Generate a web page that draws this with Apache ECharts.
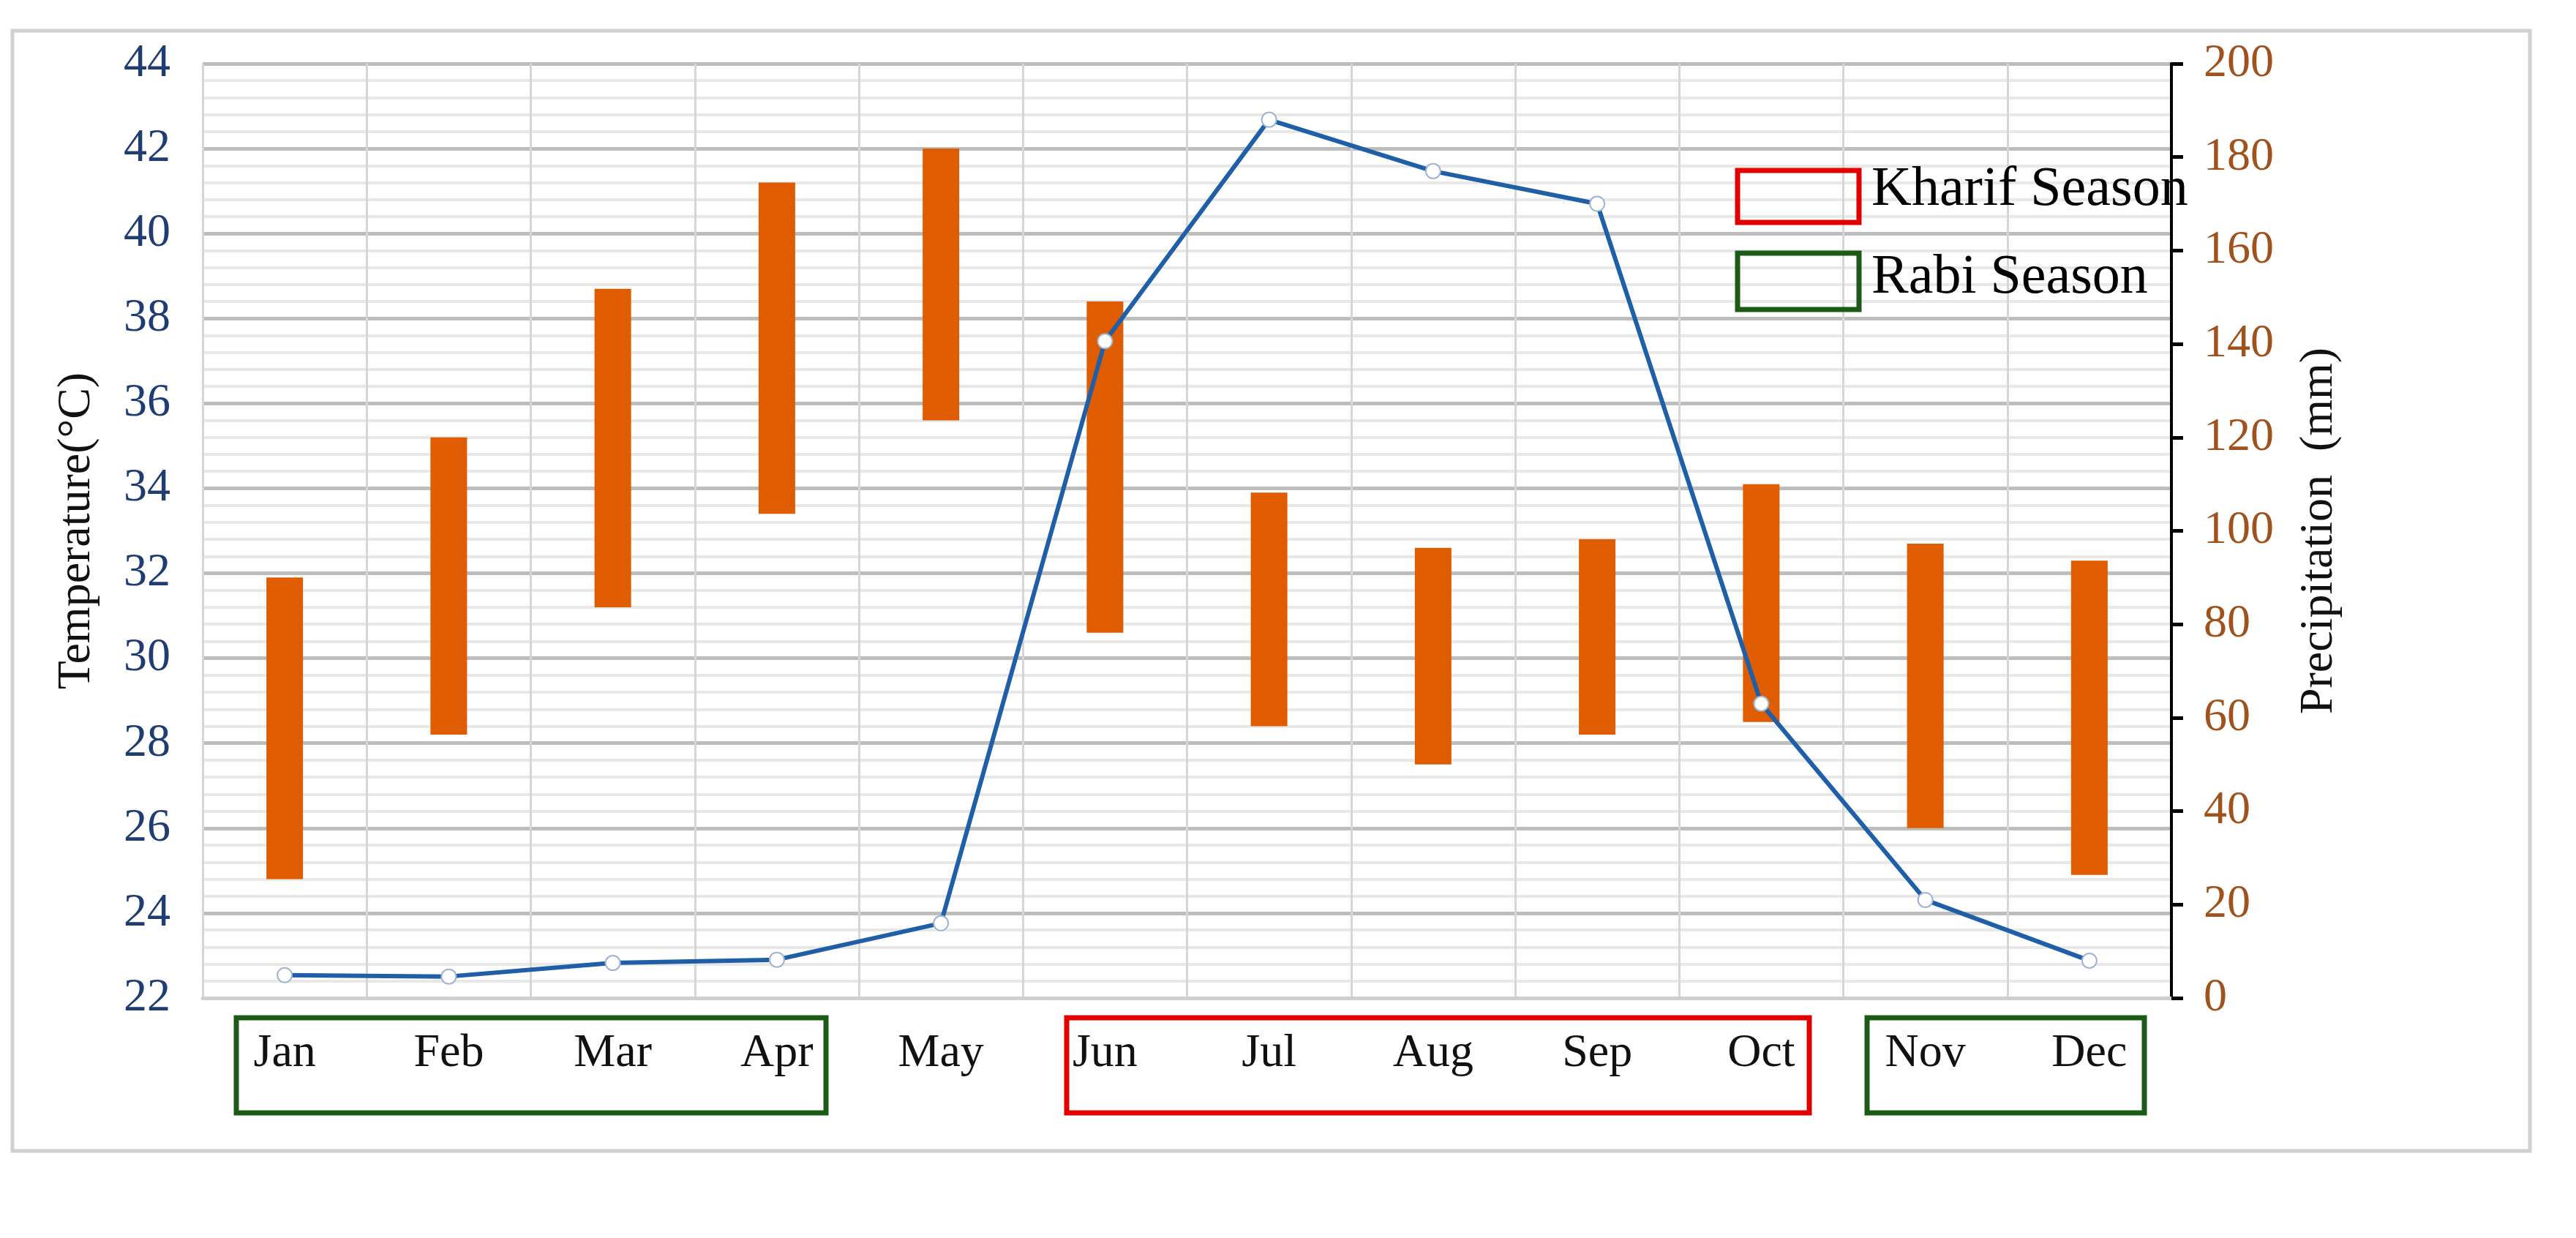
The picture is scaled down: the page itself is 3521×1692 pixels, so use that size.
<!DOCTYPE html>
<html>
<head>
<meta charset="utf-8">
<script src="https://cdn.jsdelivr.net/npm/echarts@6/dist/echarts.min.js"></script>
<style>html,body{margin:0;background:#fff}#c{width:3521px;height:1692px}</style>
</head>
<body>
<div id="c"></div>
<script>
const months = ['Jan','Feb','Mar','Apr','May','Jun','Jul','Aug','Sep','Oct','Nov','Dec']
const tempMin = [24.8, 28.2, 31.2, 33.4, 35.6, 30.6, 28.4, 27.5, 28.2, 28.5, 26.0, 24.9]
const tempMax = [31.9, 35.2, 38.7, 41.2, 42.0, 38.4, 33.9, 32.6, 32.8, 34.1, 32.7, 32.3]
const precip = [4.9, 4.6, 7.5, 8.2, 16, 140.6, 188, 177, 170, 63, 21, 8]

const FONT = 'Liberation Serif'
const chart = echarts.init(document.getElementById('c'), null, { renderer: 'canvas' })

const boxes = [
  // season frames around month labels
  { x: 323, y: 1391, w: 806, h: 130, c: '#1b5a17' },
  { x: 1458, y: 1391, w: 1015, h: 130, c: '#e00000' },
  { x: 2552, y: 1391, w: 379, h: 130, c: '#1b5a17' },
  // legend
  { x: 2375, y: 233, w: 166, h: 71, c: '#e00000' },
  { x: 2375, y: 346, w: 166, h: 77, c: '#1b5a17' },
]

chart.setOption({
  animation: false,
  grid: { left: 277, right: 553, top: 87, bottom: 328 },
  xAxis: {
    type: 'category',
    data: months,
    boundaryGap: true,
    axisLine: { show: true, lineStyle: { color: '#d0d0d0', width: 5 } },
    axisTick: { show: false },
    axisLabel: { fontFamily: FONT, fontSize: 64, color: '#111', margin: 44 },
    splitLine: { show: true, lineStyle: { color: '#d6d6d6', width: 3 } },
  },
  yAxis: [
    {
      type: 'value', min: 22, max: 44, interval: 2,
      name: 'Temperature(°C)', nameLocation: 'middle', nameGap: 140,
      nameTextStyle: { fontFamily: FONT, fontSize: 64, color: '#111' },
      axisLine: { show: false },
      axisTick: { show: false },
      axisLabel: { fontFamily: FONT, fontSize: 64, color: '#1f3c73', margin: 44 },
      splitLine: { lineStyle: { color: '#bdbdbd', width: 5 } },
      minorTick: { show: false, splitNumber: 5 },
      minorSplitLine: { show: true, lineStyle: { color: '#e8e8e8', width: 4 } },
    },
    {
      type: 'value', min: 0, max: 200, interval: 20,
      name: 'Precipitation  (mm)', nameLocation: 'middle', nameGap: 170, nameRotate: 90,
      nameTextStyle: { fontFamily: FONT, fontSize: 64, color: '#111' },
      axisLine: { show: true, lineStyle: { color: '#000', width: 4 } },
      axisTick: { show: true, length: 16, lineStyle: { color: '#000', width: 5 } },
      axisLabel: { fontFamily: FONT, fontSize: 64, color: '#a0521d', margin: 44 },
      splitLine: { show: false },
    },
  ],
  series: [
    {
      type: 'bar', stack: 't', barWidth: 50, silent: true,
      itemStyle: { color: 'transparent' },
      data: tempMin,
    },
    {
      type: 'bar', stack: 't', barWidth: 50,
      itemStyle: { color: '#e05c00' },
      data: tempMax.map((v, i) => +(v - tempMin[i]).toFixed(2)),
    },
    {
      type: 'line', yAxisIndex: 1, data: precip,
      lineStyle: { color: '#1f5fa8', width: 6 },
      symbol: 'emptyCircle', symbolSize: 20,
      itemStyle: { color: '#9fb4d0', borderColor: '#17365f', borderWidth: 7 },
    },
  ],
  graphic: [
    {
      type: 'rect', shape: { x: 17, y: 42, width: 3441, height: 1531 },
      style: { fill: null, stroke: '#d0d0d0', lineWidth: 5 }, z: -1,
    },
    ...boxes.map((b) => ({
      type: 'rect', shape: { x: b.x, y: b.y, width: b.w, height: b.h },
      style: { fill: null, stroke: b.c, lineWidth: 7 }, z: 10,
    })),
    { type: 'text', left: 2558, top: 222, style: { text: 'Kharif Season', font: '76px "Liberation Serif"', fill: '#000' }, z: 10 },
    { type: 'text', left: 2558, top: 342, style: { text: 'Rabi Season', font: '76px "Liberation Serif"', fill: '#000' }, z: 10 },
  ],
})
</script>
</body>
</html>
